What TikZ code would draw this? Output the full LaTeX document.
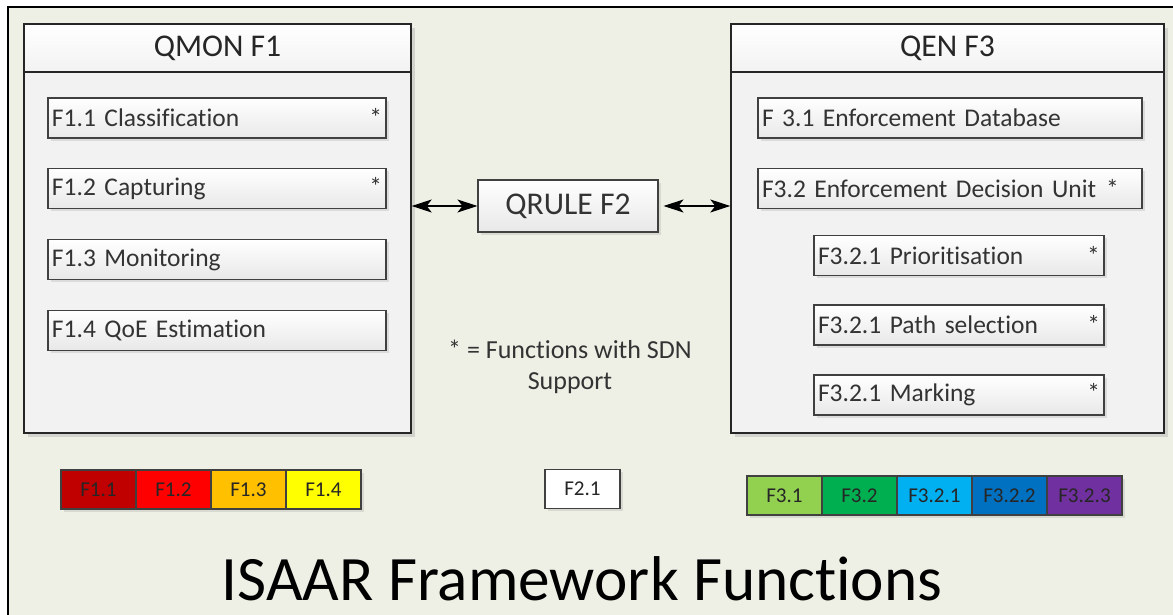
\documentclass[tikz,border=0pt]{standalone}
\usepackage{fontspec}
\setmainfont{Carlito}[Ligatures=NoCommon]
\usepackage{tikz}
\usetikzlibrary{arrows.meta, positioning, shadows, calc}
\definecolor{pagebg}{RGB}{238,240,230}
\definecolor{panelbg}{RGB}{242,242,242}
\definecolor{edgegray}{RGB}{64,64,64}
\definecolor{fdarkred}{RGB}{192,0,0}
\definecolor{fred}{RGB}{255,0,0}
\definecolor{famber}{RGB}{255,192,0}
\definecolor{fyellow}{RGB}{255,255,0}
\definecolor{flime}{RGB}{146,208,80}
\definecolor{fgreen}{RGB}{0,176,80}
\definecolor{fsky}{RGB}{0,176,240}
\definecolor{fblue}{RGB}{0,112,192}
\definecolor{fpurple}{RGB}{112,48,160}
\newcommand{\sdn}{\hfill*\hspace{0.2cm}}

\begin{document}
\begin{tikzpicture}[
    panel/.style={rectangle, draw=black!85, thick, fill=panelbg, minimum height=8.18cm, drop shadow={shadow xshift=2pt, shadow yshift=-2pt, opacity=0.25}},
    panelhead/.style={rectangle, draw=black!85, thick, top color=white, bottom color=panelbg, minimum height=0.96cm, font=\fontsize{18}{21}\selectfont, text=black!85, anchor=north},
    item/.style={rectangle, draw=edgegray, semithick, top color=white, bottom color=black!9, minimum height=0.8cm, inner xsep=0.08cm, align=left, text=black!80, font=\fontsize{14.5}{17}\selectfont, drop shadow={shadow xshift=1.5pt, shadow yshift=-1.5pt, opacity=0.2}},
    cell/.style={rectangle, draw=edgegray, semithick, minimum width=1.5cm, minimum height=0.78cm, text=black!85, font=\fontsize{12}{14}\selectfont, drop shadow={shadow xshift=1.5pt, shadow yshift=-1.5pt, opacity=0.2}},
    link/.style={<->, >={Stealth[length=0.4cm, width=0.26cm, inset=0.1cm]}, semithick},
]
    % page frame
    \useasboundingbox (0,0) rectangle (23.46,-12.3);
    \fill[pagebg] (0.16,-0.14) rectangle (23.46,-12.3);
    \draw[very thick] (0.16,-12.3) |- (23.46,-0.14);

    % QMON
    \node[panel, minimum width=7.74cm] (qmon) at (4.35,-4.57) {};
    \node[panelhead, minimum width=7.74cm] (qmonhead) at (qmon.north) {QMON F1};
    \node[item, text width=6.6cm] (f11) at (4.34,-2.36) {F1.1 Classification\sdn};
    \node[item, text width=6.6cm] (f12) at (4.34,-3.77) {F1.2 Capturing\sdn};
    \node[item, text width=6.6cm] (f13) at (4.34,-5.19) {F1.3 Monitoring};
    \node[item, text width=6.6cm] (f14) at (4.34,-6.61) {F1.4 QoE Estimation};

    % QEN
    \node[panel, minimum width=8.66cm] (qen) at (18.95,-4.57) {};
    \node[panelhead, minimum width=8.66cm] (qenhead) at (qen.north) {QEN F3};
    \node[item, text width=7.52cm] (f31) at (19.0,-2.36) {F 3.1 Enforcement Database};
    \node[item, text width=7.52cm] (f32) at (19.0,-3.77) {F3.2 Enforcement Decision Unit\hspace{0.2cm}*\hfill};
    \node[item, text width=5.64cm] (f321) at (19.18,-5.11) {F3.2.1 Prioritisation\sdn};
    \node[item, text width=5.64cm] (f322) at (19.18,-6.5) {F3.2.1 Path selection\sdn};
    \node[item, text width=5.64cm] (f323) at (19.18,-7.9) {F3.2.1 Marking\sdn};

    % QRULE
    \node[item, align=center, minimum width=3.6cm, minimum height=1.04cm, font=\fontsize{18}{21}\selectfont] (qrule) at (11.36,-4.12) {QRULE F2};
    \draw[link] (qmon.east |- qrule.west) -- (qrule.west);
    \draw[link] ($(qrule.east)+(0.1,0)$) -- (qen.west |- qrule.east);

    \node[align=center, font=\fontsize{14.8}{17.5}\selectfont, text=black!80] (note) at (11.4,-7.34) {* = Functions with SDN\\Support};

    % colour keys
    \foreach \lab/\col [count=\i] in {F1.1/fdarkred, F1.2/fred, F1.3/famber, F1.4/fyellow}
        \node[cell, fill=\col] (ka\i) at ({0.47+\i*1.5},-9.79) {\lab};
    \node[cell, fill=white] (kb1) at (11.65,-9.78) {F2.1};
    \foreach \lab/\col [count=\i] in {F3.1/flime, F3.2/fgreen, F3.2.1/fsky, F3.2.2/fblue, F3.2.3/fpurple}
        \node[cell, fill=\col] (kc\i) at ({14.19+\i*1.5},-9.91) {\lab};

    \node[font=\fontsize{36}{43}\selectfont, anchor=base] (title) at (11.64,-12.0) {ISAAR Framework Functions};
\end{tikzpicture}
\end{document}
